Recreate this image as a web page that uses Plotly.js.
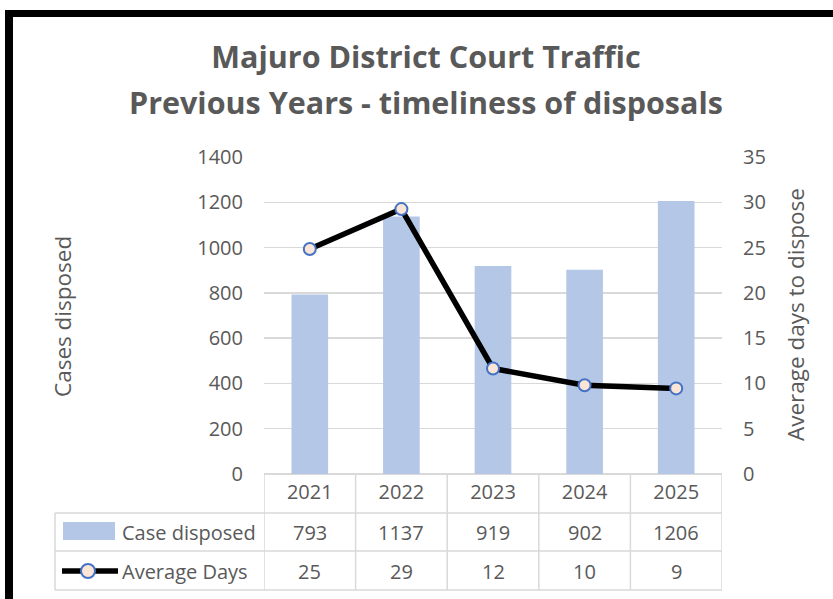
<!DOCTYPE html>
<html>
<head>
<meta charset="utf-8">
<script src="https://cdn.plot.ly/plotly-3.0.1.min.js"></script>
<style>
html,body{margin:0;padding:0;background:#fff;}
#chart{width:833px;height:599px;}
</style>
</head>
<body>
<div id="chart"></div>
<script>
// ---- data ----
const years = ["2021", "2022", "2023", "2024", "2025"];
const casesDisposed = [793, 1137, 919, 902, 1206];
const averageDays = [24.85, 29.25, 11.65, 9.8, 9.45];
const seriesNames = ["Case disposed", "Average Days"];
const titleLines = ["Majuro District Court Traffic", "Previous Years - timeliness of disposals"];
const leftAxisTitle = "Cases disposed";
const rightAxisTitle = "Average days to dispose";

// ---- layout geometry (pixels) ----
const W = 833, H = 599;
const plotL = 264, plotR = 722, plotT = 157, plotB = 474;
const xp = px => (px - plotL) / (plotR - plotL);
const yp = py => (plotB - py) / (plotB - plotT);

const textColor = "#595959";
const gridColor = "#d9d9d9";
const barColor = "#b4c7e7";
const font = "Open Sans, Lato, sans-serif";

const traces = [
  {
    type: "bar", name: seriesNames[0], x: years, y: casesDisposed,
    marker: {color: barColor}, yaxis: "y", hoverinfo: "x+y"
  },
  {
    type: "scatter", mode: "lines+markers", name: seriesNames[1], x: years, y: averageDays,
    yaxis: "y2", cliponaxis: false,
    line: {color: "#000000", width: 5.5},
    marker: {size: 12, color: "#fbe5d6", line: {color: "#4472c4", width: 2}}
  }
];

const shapes = [];
const tl = {color: gridColor, width: 1.5};
// table horizontal lines
[513, 551, 590].forEach(py => {
  shapes.push({type: "line", xref: "paper", yref: "paper", x0: xp(55), x1: 1, y0: yp(py), y1: yp(py), line: tl});
});
// table vertical lines
shapes.push({type: "line", xref: "paper", yref: "paper", x0: xp(55), x1: xp(55), y0: yp(513), y1: yp(590), line: tl});
for (let i = 0; i <= years.length; i++) {
  shapes.push({type: "line", xref: "x", yref: "paper", x0: i - 0.5, x1: i - 0.5, y0: 0, y1: yp(590), line: tl});
}
// legend keys in table
shapes.push({type: "rect", xref: "paper", yref: "paper", x0: xp(63), x1: xp(115), y0: yp(540), y1: yp(522), line: {width: 0}, fillcolor: barColor});
shapes.push({type: "line", xref: "paper", yref: "paper", x0: xp(62), x1: xp(118), y0: yp(571), y1: yp(571), line: {color: "#000", width: 5.5}});
shapes.push({type: "circle", xref: "paper", yref: "paper", x0: xp(81), x1: xp(95), y0: yp(578), y1: yp(564), line: {color: "#4472c4", width: 2}, fillcolor: "#fbe5d6"});
// outer frame (left and top black bars)
shapes.push({type: "rect", xref: "paper", yref: "paper", x0: xp(5), x1: xp(13), y0: yp(H + 5), y1: yp(10), line: {width: 0}, fillcolor: "#000"});
shapes.push({type: "rect", xref: "paper", yref: "paper", x0: xp(5), x1: xp(W + 5), y0: yp(17), y1: yp(10), line: {width: 0}, fillcolor: "#000"});

const annotations = [];
const tf = {family: font, size: 20, color: textColor};
const axf = {family: font, size: 22.5, color: textColor};
// second title line
annotations.push({text: titleLines[1], xref: "paper", yref: "paper", x: xp(426), y: yp(102), xanchor: "center", yanchor: "middle", showarrow: false, font: {family: font, size: 30.5, color: textColor, weight: 700}});
// axis titles
annotations.push({text: leftAxisTitle, xref: "paper", yref: "paper", x: xp(62), y: yp(317), textangle: -90, xanchor: "center", yanchor: "middle", showarrow: false, font: axf});
annotations.push({text: rightAxisTitle, xref: "paper", yref: "paper", x: xp(795), y: yp(315), textangle: -90, xanchor: "center", yanchor: "middle", showarrow: false, font: axf});
// table row labels
annotations.push({text: seriesNames[0], xref: "paper", yref: "paper", x: xp(120), y: yp(532), xanchor: "left", yanchor: "middle", showarrow: false, font: tf});
annotations.push({text: seriesNames[1], xref: "paper", yref: "paper", x: xp(120), y: yp(571), xanchor: "left", yanchor: "middle", showarrow: false, font: tf});
// table values (category axis: x given as category serial number)
years.forEach((yr, i) => {
  annotations.push({text: String(casesDisposed[i]), xref: "x", yref: "paper", x: i, y: yp(532), xanchor: "center", yanchor: "middle", showarrow: false, font: tf});
  annotations.push({text: String(Math.round(averageDays[i])), xref: "x", yref: "paper", x: i, y: yp(571), xanchor: "center", yanchor: "middle", showarrow: false, font: tf});
});

const layout = {
  width: W, height: H,
  margin: {l: plotL, r: W - plotR, t: plotT, b: H - plotB, pad: 0},
  paper_bgcolor: "#fff", plot_bgcolor: "#fff",
  showlegend: false,
  bargap: 0.6,
  font: {family: font, color: textColor},
  title: {
    text: titleLines[0],
    x: 426 / W, xanchor: "center", xref: "container",
    y: 1 - 57 / H, yanchor: "middle", yref: "container",
    font: {family: font, size: 30.5, color: textColor, weight: 700}
  },
  xaxis: {
    type: "category", range: [-0.5, years.length - 0.5],
    showgrid: false, zeroline: false, showline: false, ticks: "",
    tickfont: {family: font, size: 20, color: textColor},
    ticklabelstandoff: 4, fixedrange: true
  },
  yaxis: {
    range: [0, 1400], dtick: 200, tick0: 0,
    showgrid: true, gridcolor: gridColor, gridwidth: 1.5,
    zeroline: true, zerolinecolor: gridColor, zerolinewidth: 1.5,
    showline: false, ticks: "",
    tickfont: {family: font, size: 20, color: textColor},
    ticklabelstandoff: 20, fixedrange: true
  },
  yaxis2: {
    range: [0, 35], dtick: 5, tick0: 0,
    overlaying: "y", side: "right",
    showgrid: false, zeroline: false, showline: false, ticks: "",
    tickfont: {family: font, size: 20, color: textColor},
    ticklabelstandoff: 20, fixedrange: true
  },
  shapes: shapes,
  annotations: annotations
};

Plotly.newPlot("chart", traces, layout, {displayModeBar: false, staticPlot: true});
</script>
</body>
</html>
